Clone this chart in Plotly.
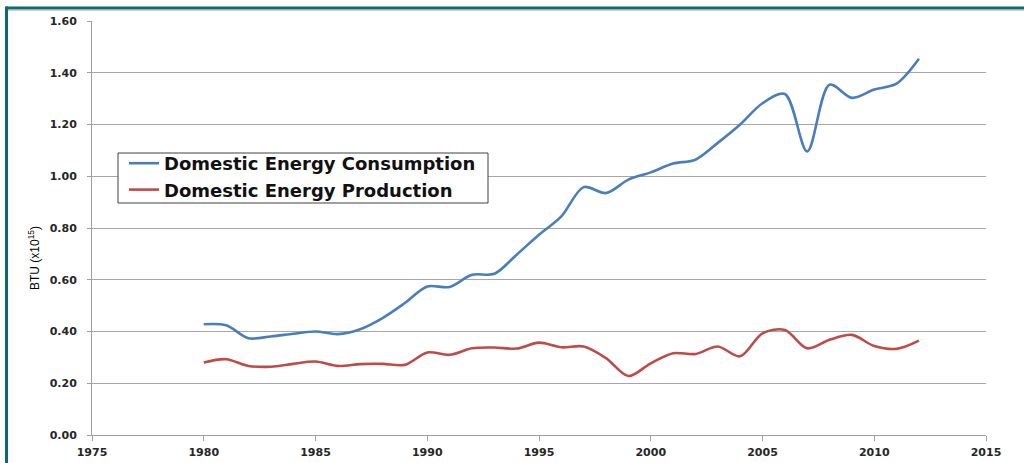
import plotly.graph_objects as go

years = list(range(1980, 2013))
consumption = [0.428, 0.424, 0.374, 0.381, 0.391, 0.400, 0.390, 0.409, 0.452, 0.510,
               0.574, 0.572, 0.619, 0.623, 0.697, 0.774, 0.845, 0.958, 0.935, 0.987,
               1.015, 1.049, 1.064, 1.129, 1.200, 1.282, 1.318, 1.096, 1.354, 1.303,
               1.335, 1.358, 1.454]
production = [0.280, 0.293, 0.267, 0.264, 0.275, 0.284, 0.267, 0.274, 0.275, 0.271,
              0.319, 0.310, 0.335, 0.338, 0.334, 0.357, 0.339, 0.342, 0.297, 0.228,
              0.277, 0.316, 0.313, 0.342, 0.304, 0.393, 0.406, 0.335, 0.368, 0.387,
              0.344, 0.333, 0.365]
series_names = ["Domestic Energy Consumption", "Domestic Energy Production"]
x_ticks = [1975, 1980, 1985, 1990, 1995, 2000, 2005, 2010, 2015]
y_ticks = [0.0, 0.2, 0.4, 0.6, 0.8, 1.0, 1.2, 1.4, 1.6]

fig = go.Figure()
fig.add_trace(go.Scatter(x=years, y=consumption, mode="lines", name=series_names[0],
                         line=dict(color="#4a7ebb", width=2.6, shape="spline", smoothing=0.9)))
fig.add_trace(go.Scatter(x=years, y=production, mode="lines", name=series_names[1],
                         line=dict(color="#be4b48", width=2.6, shape="spline", smoothing=0.9)))

tickfont = dict(family="DejaVu Sans", size=11, color="#262626", weight="bold")

W, H = 894, 414
def px(x):
    return (x - 92) / W
def py(y):
    return (435 - y) / H

fig.update_layout(
    width=1024, height=463,
    margin=dict(l=92, r=38, t=21, b=28, autoexpand=False),
    paper_bgcolor="white", plot_bgcolor="white",
    showlegend=True,
    legend=dict(
        x=px(124), y=py(145), xanchor="left", yanchor="top",
        bgcolor="rgba(0,0,0,0)", borderwidth=0,
        font=dict(family="DejaVu Sans", size=18, color="#111111", weight="bold"),
        tracegroupgap=0,
    ),
    xaxis=dict(
        range=[1975, 2015], tickvals=x_ticks, ticktext=[str(v) for v in x_ticks],
        showgrid=False, zeroline=False, automargin=False,
        showline=True, linecolor="#a0a0a0", linewidth=1,
        ticks="outside", ticklen=5, tickcolor="#a0a0a0",
        tickfont=tickfont, ticklabelstandoff=2,
    ),
    yaxis=dict(
        range=[0, 1.6], tickvals=y_ticks, ticktext=[f"{v:.2f}" for v in y_ticks],
        showgrid=True, gridcolor="#a6a6a6", gridwidth=1, zeroline=False, automargin=False,
        showline=True, linecolor="#a0a0a0", linewidth=1,
        ticks="outside", ticklen=4, tickcolor="#a0a0a0",
        tickfont=tickfont, ticklabelstandoff=8,
    ),
    annotations=[
        dict(text="BTU (x10<sup>15</sup>)", xref="paper", yref="paper",
             x=px(34), y=py(258), textangle=-90,
             xanchor="center", yanchor="middle",
             showarrow=False, font=dict(family="Liberation Sans", size=12, color="#000000"))
    ],
    shapes=[
        dict(type="rect", xref="paper", yref="paper",
             x0=px(118), x1=px(488), y0=py(153), y1=py(203),
             fillcolor="white", line=dict(color="#404040", width=1), layer="above"),
        dict(type="line", xref="paper", yref="paper",
             x0=px(6), x1=px(1030), y0=py(8), y1=py(8),
             line=dict(color="#0e6b6b", width=3)),
        dict(type="line", xref="paper", yref="paper",
             x0=px(6), x1=px(1030), y0=py(10.5), y1=py(10.5),
             line=dict(color="#c8d0d0", width=1)),
        dict(type="line", xref="paper", yref="paper",
             x0=px(6.5), x1=px(6.5), y0=py(470), y1=py(6.5),
             line=dict(color="#0e6b6b", width=3)),
    ],
)

fig.write_html("out.html", config={"displayModeBar": False},
               post_script="document.body.style.margin='0';")
